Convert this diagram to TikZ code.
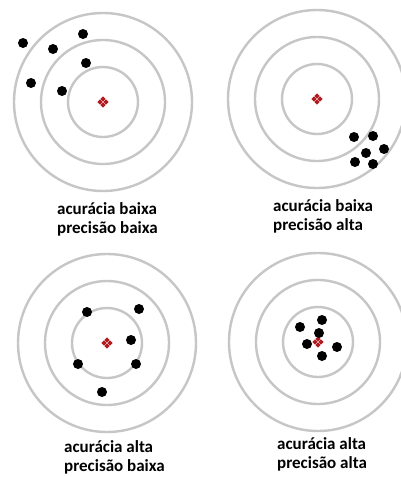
\documentclass[tikz,border=0pt]{standalone}
\usepackage{fontspec}
\setmainfont{Carlito}
\definecolor{ringgray}{RGB}{198,198,198}
\definecolor{markred}{RGB}{178,28,32}
\tikzset{
  ring/.style={draw=ringgray, line width=2.4pt},
  shot/.style={fill=black},
  caption/.style={align=left, anchor=base west, inner sep=0pt,
    font=\bfseries\fontsize{17}{19}\selectfont},
  target/.pic={
    \foreach \r in {35,62,89}
      \draw[ring] (0,0) circle (\r pt);
    \foreach \dx/\dy in {3/0,-3/0,0/3,0/-3}
      \fill[markred] (\dx+2.6,\dy) -- (\dx,\dy+2.6) -- (\dx-2.6,\dy) -- (\dx,\dy-2.6) -- cycle;
  }
}
\begin{document}
\begin{tikzpicture}[x=1pt,y=-1pt]
  \useasboundingbox[fill=white] (0,0) rectangle (400,477);
  % targets
  \pic at (103,102) {target};
  \pic at (317,99) {target};
  \pic at (107,343) {target};
  \pic at (318,342) {target};
  % shots
  \foreach \x/\y in {23/43,53/49,83/34,86/63,31/83,62/91}
    \fill[shot] (\x,\y) circle (5pt);
  \foreach \x/\y in {354/137,373/136,384/149,366/153,355/162,373/164}
    \fill[shot] (\x,\y) circle (5pt);
  \foreach \x/\y in {87/312,139/309,131/340,78/364,136/364,102/392}
    \fill[shot] (\x,\y) circle (5pt);
  \foreach \x/\y in {300/327,322/320,319/333,307/344,337/347,322/356}
    \fill[shot] (\x,\y) circle (5pt);
  % captions (anchored on the last baseline)
  \node[caption] (lowlow) at (57,233) {acurácia baixa\\precisão baixa};
  \node[caption] (lowhigh) at (273,230) {acurácia baixa\\precisão alta};
  \node[caption] (highlow) at (64,471) {acurácia alta\\precisão baixa};
  \node[caption] (highhigh) at (277,468) {acurácia alta\\precisão alta};
\end{tikzpicture}
\end{document}
